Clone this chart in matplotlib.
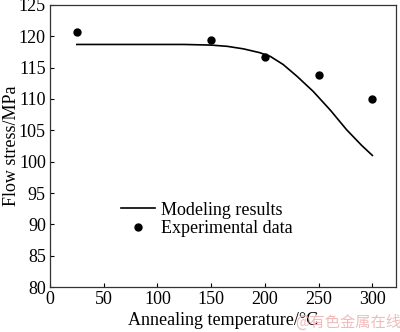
import matplotlib
matplotlib.use("Agg")
import matplotlib.pyplot as plt

# Experimental data
exp_x = [25, 150, 200, 250, 300]
exp_y = [120.7, 119.4, 116.7, 113.9, 110.0]

# Modeling results
mod_x = [25, 75, 125, 150, 165, 180, 195, 205, 217, 230, 245, 261, 276, 290, 300]
mod_y = [118.7, 118.7, 118.7, 118.6, 118.4, 118.0, 117.4, 116.8, 115.5, 113.6, 111.2, 108.2, 105.1, 102.6, 101.0]

xticks = [0, 50, 100, 150, 200, 250, 300]
yticks = [80, 85, 90, 95, 100, 105, 110, 115, 120, 125]

plt.rcParams['font.family'] = ['Liberation Serif', 'DejaVu Serif']

fig = plt.figure(figsize=(4.0, 3.32), dpi=100)
ax = fig.add_axes([0.125, 0.1355, 0.865, 0.8495])

ax.plot(mod_x, mod_y, color='black', lw=1.2, label='Modeling results')
ax.plot(exp_x, exp_y, 'o', color='black', ms=5, label='Experimental data')

ax.set_xlim(0, 322)
ax.set_ylim(80, 125)
ax.set_xticks(xticks)
ax.set_yticks(yticks)
ax.tick_params(direction='in', length=3, width=0.8, labelsize=13, pad=3)
for s in ax.spines.values():
    s.set_linewidth(0.9)
    s.set_color('#333333')

ax.set_xlabel('Annealing temperature/°C', fontsize=13)
ax.set_ylabel('Flow stress/MPa', fontsize=13)
ax.xaxis.set_label_coords(0.5, -0.088)
ax.yaxis.set_label_coords(-0.088, 0.5)

ax.legend(loc='upper left', bbox_to_anchor=(0.205, 0.303), frameon=False,
          fontsize=13, handlelength=1.9, handletextpad=0.3, labelspacing=0.1,
          borderpad=0, borderaxespad=0, numpoints=1)

fig.text(0.7375, 0.03, '@有色金属在线', fontsize=11, color='#f0b4b4', va='center',
         family=['Noto Sans CJK SC', 'DejaVu Sans'], alpha=0.9)

fig.savefig('out.png', dpi=100)
